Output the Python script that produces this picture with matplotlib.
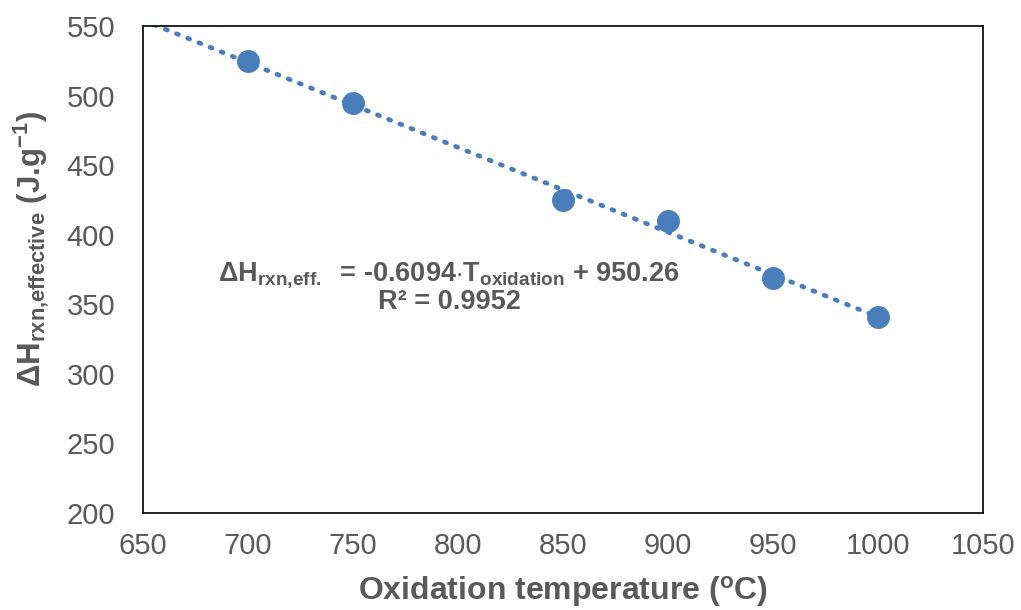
import matplotlib
matplotlib.use("Agg")
import matplotlib.pyplot as plt
import numpy as np

temps = [700, 750, 850, 900, 950, 1000]
dh = [525, 495, 425, 410, 369, 341]
slope = -0.6094
intercept = 950.26
r2 = 0.9952
xticks = [650, 700, 750, 800, 850, 900, 950, 1000, 1050]
yticks = [200, 250, 300, 350, 400, 450, 500, 550]

plt.rcParams['font.family'] = ['Liberation Sans', 'DejaVu Sans']
plt.rcParams['mathtext.fontset'] = 'custom'
plt.rcParams['mathtext.rm'] = 'Liberation Sans:bold'
plt.rcParams['mathtext.bf'] = 'Liberation Sans:bold'
plt.rcParams['mathtext.it'] = 'Liberation Sans:bold'
plt.rcParams['mathtext.default'] = 'bf'

grey = '#595959'
blue = '#4A7EBB'
W, H = 1021, 610
L, R, T, B = 143, 983, 26, 513

fig = plt.figure(figsize=(W/100, H/100), dpi=100)
ax = fig.add_axes([L/W, 1-B/H, (R-L)/W, (B-T)/H])

xl = np.array([650, 1000])
ax.plot(xl, slope*xl + intercept, linestyle=(0, (0.45, 2.1)), color=blue, lw=3.4,
        dash_capstyle='round', zorder=2)
ax.plot(temps, dh, 'o', color=blue, ms=15.5, zorder=3)

ax.set_xlim(650, 1050)
ax.set_ylim(200, 550)
ax.set_xticks(xticks)
ax.set_yticks(yticks)
ax.tick_params(length=0, labelsize=21, colors=grey)
ax.tick_params(axis='x', pad=14)
ax.tick_params(axis='y', pad=20)
for s in ax.spines.values():
    s.set_color('black')
    s.set_linewidth(1.2)

ax.set_xlabel('Oxidation temperature ($^{\\mathregular{o}}$C)', fontsize=23, fontweight='bold',
              color=grey, va='baseline')
ax.xaxis.set_label_coords(0.5, (B-600)/(B-T))
ax.set_ylabel('$\\Delta$H$_{\\mathregular{rxn{,}effective}}$ (J.g$^{\\mathregular{-1}}$)',
              fontsize=22.5, fontweight='bold', color=grey, va='center')
ax.yaxis.set_label_coords((31-L)/(R-L), (B-249)/(B-T))

fig.text(449/W, 1-281/H,
         '$\\Delta$H$_{\\mathregular{rxn{,}eff.}}$  = -0.6094$\\cdot$T$_{\\mathregular{oxidation}}$ + 950.26',
         fontsize=19.5, fontweight='bold', color=grey, ha='center', va='baseline')
fig.text(449/W, 1-309/H, 'R² = %.4f' % r2, fontsize=19.5, fontweight='bold', color=grey,
         ha='center', va='baseline')

fig.savefig('out.png', dpi=100)
